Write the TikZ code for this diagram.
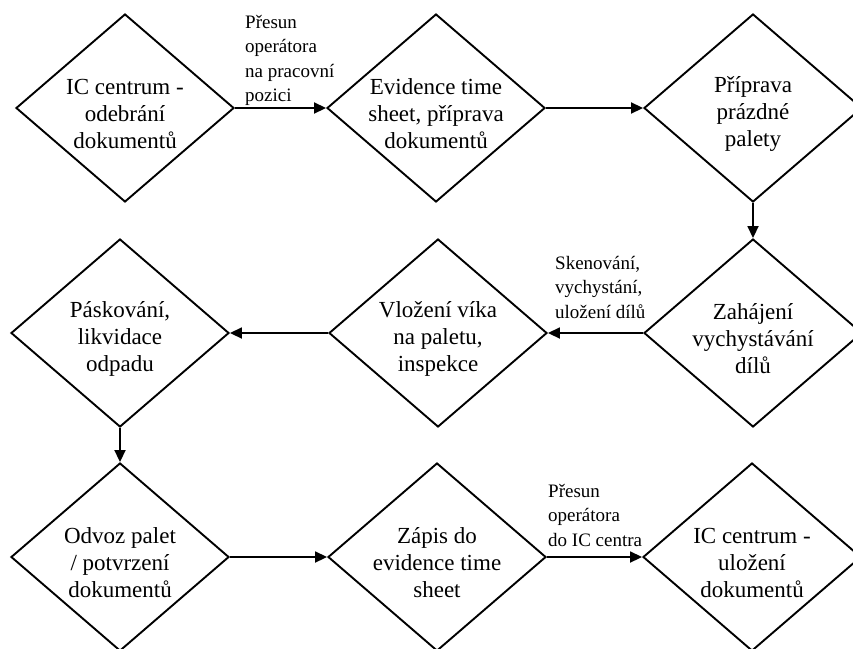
\documentclass[tikz,border=0pt]{standalone}
\usepackage{fontspec}
\setmainfont{Liberation Serif}
\usetikzlibrary{shapes.geometric,arrows.meta}
\tikzset{
  dia/.style={draw, shape=diamond, line width=1.9pt, minimum width=218pt, minimum height=188pt,
    inner sep=0pt},
  dtxt/.style={inner sep=0pt, align=center, yshift=-6pt, font=\fontsize{23}{27}\selectfont},
  arr/.style={line width=1.8pt, -{Triangle[length=12pt,width=11pt]}},
  lbl/.style={anchor=north west, inner sep=0pt, align=left, font=\fontsize{19}{24.5}\selectfont}
}
\begin{document}
\begin{tikzpicture}[x=1pt,y=-1pt]
\useasboundingbox (0,0) rectangle (853,648);
\node[dia] (d1) at (125,108) {};
\node[dia] (d2) at (436,108) {};
\node[dia] (d3) at (753,108) {};
\node[dia] (d4) at (120,333) {};
\node[dia] (d5) at (438,333) {};
\node[dia] (d6) at (753,333) {};
\node[dia] (d7) at (120,557) {};
\node[dia] (d8) at (437,557) {};
\node[dia] (d9) at (752,557) {};
\node[dtxt] (t1) at (d1.center) {IC centrum -\\odebrání\\dokumentů};
\node[dtxt] (t2) at (d2.center) {Evidence time\\sheet, příprava\\dokumentů};
\node[dtxt] (t3) at (d3.center) {Příprava\\prázdné\\palety};
\node[dtxt] (t4) at (d4.center) {Páskování,\\likvidace\\odpadu};
\node[dtxt] (t5) at (d5.center) {Vložení víka\\na paletu,\\inspekce};
\node[dtxt] (t6) at (d6.center) {Zahájení\\vychystávání\\dílů};
\node[dtxt] (t7) at (d7.center) {Odvoz palet\\/ potvrzení\\dokumentů};
\node[dtxt] (t8) at (d8.center) {Zápis do\\evidence time\\sheet};
\node[dtxt] (t9) at (d9.center) {IC centrum -\\uložení\\dokumentů};
\draw[arr] (d1.east) -- (d2.west);
\draw[arr] (d2.east) -- (d3.west);
\draw[arr] (d3.south) -- (d6.north);
\draw[arr] (d6.west) -- (d5.east);
\draw[arr] (d5.west) -- (d4.east);
\draw[arr] (d4.south) -- (d7.north);
\draw[arr] (d7.east) -- (d8.west);
\draw[arr] (d8.east) -- (d9.west);
\node[lbl] (l1) at (245,15) {Přesun\\operátora\\na pracovní\\pozici};
\node[lbl] (l2) at (555,256) {Skenování,\\vychystání,\\uložení dílů};
\node[lbl] (l3) at (548,484) {Přesun\\operátora\\do IC centra};
\end{tikzpicture}
\end{document}
